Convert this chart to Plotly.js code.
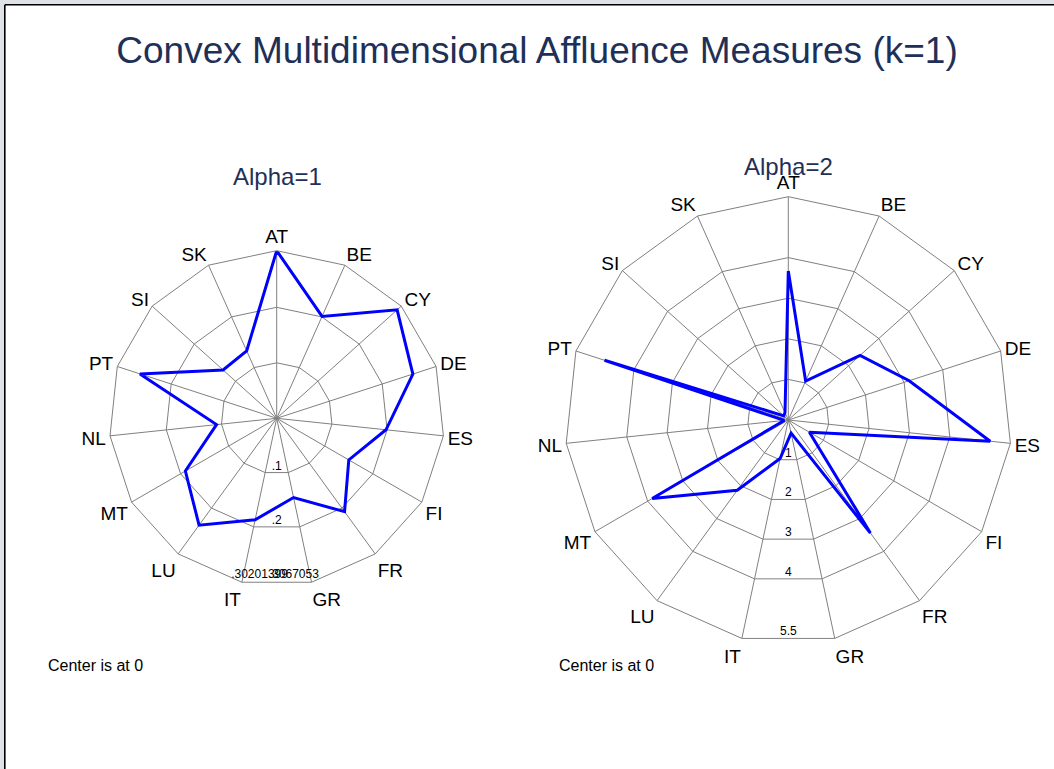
<!DOCTYPE html>
<html><head><meta charset="utf-8">
<script src="https://cdn.plot.ly/plotly-3.0.1.min.js"></script>
<style>html,body{margin:0;padding:0;background:#fff}#chart{width:1054px;height:769px}</style>
</head><body><div id="chart"></div>
<script>
// ---- data ----
const countries = ['AT','BE','CY','DE','ES','FI','FR','GR','IT','LU','MT','NL','PT','SI','SK'];
const alpha1 = [0.302,0.201,0.292,0.258,0.198,0.150,0.208,0.146,0.187,0.238,0.190,0.109,0.259,0.130,0.133];
const alpha2 = [3.67,1.05,2.38,3.13,5.00,0.60,3.44,0.33,0.97,2.14,3.87,0.10,4.76,0.15,0.20];
const ticks1 = [0.1, 0.2];
const tickLabels1 = ['.1', '.2'];
const max1 = 0.302;
const maxLabels1 = ['.30201399', '.3067053'];
const ticks2 = [1, 2, 3, 4, 5.5];
const tickLabels2 = ['1', '2', '3', '4', '5.5'];
const max2 = 5.5;
const subtitles = ['Alpha=1', 'Alpha=2'];
const mainTitle = 'Convex Multidimensional Affluence Measures (k=1)';
const note = 'Center is at 0';

// ---- helpers ----
const W = 1054, H = 769;
const edge = Math.cos(Math.PI / countries.length); // polygon edge distance at the bottom (between IT and GR)
const FONT = 'Liberation Sans, Arial, sans-serif';

function dom(cx, cy, R) {
  return {x: [(cx - R) / W, (cx + R) / W], y: [1 - (cy + R) / H, 1 - (cy - R) / H]};
}
const d1 = dom(276.7, 418.3, 167.6);
const d2 = dom(788.3, 420.0, 223.3);

function closed(a) { return a.concat([a[0]]); }

function mainPolar(domain, range, tickvals) {
  return {
    domain: domain, bgcolor: 'rgba(0,0,0,0)', gridshape: 'linear',
    angularaxis: {
      type: 'category', categoryorder: 'array', categoryarray: countries,
      rotation: 90, direction: 'clockwise',
      showline: true, linecolor: '#808080', linewidth: 1,
      showgrid: true, gridcolor: '#808080', gridwidth: 1,
      ticks: '', tickfont: {family: FONT, size: 19, color: '#000'}
    },
    radialaxis: {
      range: range, tickvals: tickvals, showticklabels: false, ticks: '',
      showline: false, showgrid: true, gridcolor: '#808080', gridwidth: 1
    }
  };
}
function overlayPolar(domain, range) {
  return {
    domain: domain, bgcolor: 'rgba(0,0,0,0)',
    angularaxis: {type: 'linear', rotation: 90, direction: 'clockwise', visible: false, showgrid: false},
    radialaxis: {range: range, visible: false, showgrid: false}
  };
}

const traces = [
  {type: 'scatterpolar', subplot: 'polar', r: closed(alpha1), theta: closed(countries),
   mode: 'lines', line: {color: '#0000ff', width: 3}, hoverinfo: 'skip'},
  {type: 'scatterpolar', subplot: 'polar2', r: closed(alpha2), theta: closed(countries),
   mode: 'lines', line: {color: '#0000ff', width: 3}, hoverinfo: 'skip'},
  // ring labels, left
  {type: 'scatterpolar', subplot: 'polar3', r: ticks1.map(v => v * edge), theta: ticks1.map(() => 180),
   mode: 'text', text: tickLabels1, textposition: 'top center',
   textfont: {family: FONT, size: 12, color: '#000'}, hoverinfo: 'skip'},
  {type: 'scatterpolar', subplot: 'polar3', r: [max1 * edge, max1 * edge], theta: [186, 174],
   mode: 'text', text: maxLabels1, textposition: 'top center',
   textfont: {family: FONT, size: 12, color: '#000'}, hoverinfo: 'skip'},
  // ring labels, right
  {type: 'scatterpolar', subplot: 'polar4', r: ticks2.map(v => v * edge), theta: ticks2.map(() => 180),
   mode: 'text', text: tickLabels2, textposition: 'top center',
   textfont: {family: FONT, size: 12, color: '#000'}, hoverinfo: 'skip'}
];

const layout = {
  width: W, height: H, margin: {l: 0, r: 0, t: 0, b: 0, autoexpand: false},
  paper_bgcolor: '#ffffff', showlegend: false,
  title: {text: mainTitle, x: 537 / W, xanchor: 'center', y: 1 - 50 / H, yanchor: 'middle',
          font: {family: FONT, size: 37, color: '#1f3058'}},
  polar: mainPolar(d1, [0, max1], ticks1),
  polar2: mainPolar(d2, [0, max2], ticks2.slice(0, 4)),
  polar3: overlayPolar(d1, [0, max1]),
  polar4: overlayPolar(d2, [0, max2]),
  annotations: [
    {text: subtitles[0], xref: 'paper', yref: 'paper', x: 277 / W, y: 1 - 176 / H, xanchor: 'center', yanchor: 'middle',
     showarrow: false, font: {family: FONT, size: 24, color: '#1f3058'}},
    {text: subtitles[1], xref: 'paper', yref: 'paper', x: 788.3 / W, y: 1 - 166 / H, xanchor: 'center', yanchor: 'middle',
     showarrow: false, font: {family: FONT, size: 24, color: '#1f3058'}},
    {text: note, xref: 'paper', yref: 'paper', x: 46 / W, y: 1 - 665 / H, xanchor: 'left', yanchor: 'middle',
     showarrow: false, font: {family: FONT, size: 16, color: '#000'}},
    {text: note, xref: 'paper', yref: 'paper', x: 557 / W, y: 1 - 665 / H, xanchor: 'left', yanchor: 'middle',
     showarrow: false, font: {family: FONT, size: 16, color: '#000'}}
  ],
  shapes: [
    {type: 'rect', xref: 'paper', yref: 'paper', x0: 0, x1: 4 / W, y0: 0, y1: 1, fillcolor: '#dfe3e7', line: {width: 0}, layer: 'below'},
    {type: 'rect', xref: 'paper', yref: 'paper', x0: 0, x1: 1, y0: 1 - 4 / H, y1: 1, fillcolor: '#dfe3e7', line: {width: 0}, layer: 'below'},
    {type: 'line', xref: 'paper', yref: 'paper', x0: 4.8 / W, x1: 4.8 / W, y0: 0, y1: 1 - 4.8 / H, line: {color: '#000', width: 1.6}},
    {type: 'line', xref: 'paper', yref: 'paper', x0: 4.8 / W, x1: 1, y0: 1 - 4.8 / H, y1: 1 - 4.8 / H, line: {color: '#000', width: 1.6}}
  ]
};

Plotly.newPlot('chart', traces, layout, {displayModeBar: false, staticPlot: true});
</script>
</body></html>
